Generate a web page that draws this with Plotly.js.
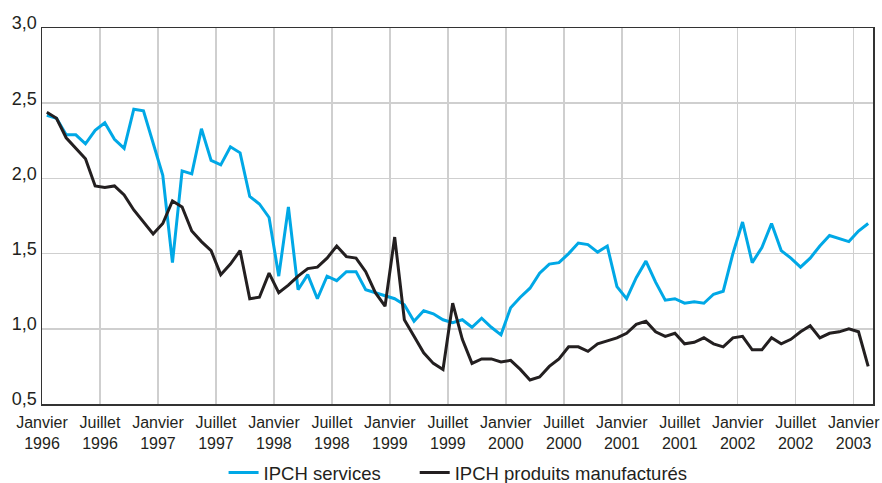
<!DOCTYPE html>
<html>
<head>
<meta charset="utf-8">
<script src="https://cdn.plot.ly/plotly-3.0.1.min.js"></script>
<style>html,body{margin:0;padding:0;background:#fff;}#chart{width:882px;height:483px;}</style>
</head>
<body>
<div id="chart"></div>
<script>
// Monthly values, January 1996 to February 2003 (86 months)
const services = [
  2.42, 2.40, 2.29, 2.29, 2.23, 2.32, 2.37, 2.26, 2.20, 2.46, 2.45, 2.24,
  2.02, 1.44, 2.05, 2.03, 2.33, 2.12, 2.09, 2.21, 2.17, 1.88, 1.83, 1.74,
  1.35, 1.81, 1.26, 1.36, 1.20, 1.35, 1.32, 1.38, 1.38, 1.26, 1.24, 1.22,
  1.20, 1.16, 1.05, 1.12, 1.10, 1.06, 1.04, 1.06, 1.01, 1.07, 1.01, 0.96,
  1.14, 1.21, 1.27, 1.37, 1.43, 1.44, 1.50, 1.57, 1.56, 1.51, 1.55, 1.28,
  1.20, 1.34, 1.45, 1.31, 1.19, 1.20, 1.17, 1.18, 1.17, 1.23, 1.25, 1.50,
  1.71, 1.44, 1.54, 1.70, 1.52, 1.47, 1.41, 1.47, 1.55, 1.62, 1.60, 1.58,
  1.65, 1.70
];
const manufactures = [
  2.44, 2.40, 2.27, 2.20, 2.13, 1.95, 1.94, 1.95, 1.89, 1.79, 1.71, 1.63,
  1.70, 1.85, 1.81, 1.65, 1.58, 1.52, 1.36, 1.43, 1.52, 1.20, 1.21, 1.37,
  1.24, 1.29, 1.35, 1.40, 1.41, 1.47, 1.55, 1.48, 1.47, 1.38, 1.24, 1.15,
  1.61, 1.06, 0.95, 0.84, 0.77, 0.73, 1.17, 0.93, 0.77, 0.80, 0.80, 0.78,
  0.79, 0.73, 0.66, 0.68, 0.75, 0.80, 0.88, 0.88, 0.85, 0.90, 0.92, 0.94,
  0.97, 1.03, 1.05, 0.98, 0.95, 0.97, 0.90, 0.91, 0.94, 0.90, 0.88, 0.94,
  0.95, 0.86, 0.86, 0.94, 0.90, 0.93, 0.98, 1.02, 0.94, 0.97, 0.98, 1.00,
  0.98, 0.75
];
const tickMonths = [0, 6, 12, 18, 24, 30, 36, 42, 48, 54, 60, 66, 72, 78, 84];
const tickLabels = [
  "Janvier<br>1996", "Juillet<br>1996", "Janvier<br>1997", "Juillet<br>1997",
  "Janvier<br>1998", "Juillet<br>1998", "Janvier<br>1999", "Juillet<br>1999",
  "Janvier<br>2000", "Juillet<br>2000", "Janvier<br>2001", "Juillet<br>2001",
  "Janvier<br>2002", "Juillet<br>2002", "Janvier<br>2003"
];
const seriesNames = ["IPCH services", "IPCH produits manufacturés"];

const months = services.map((_, i) => i + 0.5);

const traces = [
  {x: months, y: services, name: seriesNames[0], type: "scatter", mode: "lines",
   line: {color: "#00a8e6", width: 3}, legend: "legend"},
  {x: months, y: manufactures, name: seriesNames[1], type: "scatter", mode: "lines",
   line: {color: "#231f20", width: 3}, legend: "legend2"}
];

const legendBase = {orientation: "h", xanchor: "left", yref: "container", y: 0.021, yanchor: "middle",
                    font: {size: 18.5, color: "#231f20"}, bgcolor: "rgba(0,0,0,0)"};

const layout = {
  width: 882, height: 483,
  margin: {l: 42, r: 9, t: 28, b: 79},
  paper_bgcolor: "#fff", plot_bgcolor: "#fff",
  separators: ", ",
  font: {family: "Liberation Sans, Arial, sans-serif", color: "#231f20", size: 16},
  showlegend: true,
  legend: Object.assign({}, legendBase, {x: 0.2185}),
  legend2: Object.assign({}, legendBase, {x: 0.4485}),
  xaxis: {range: [0, 86], tickmode: "array", tickvals: tickMonths, ticktext: tickLabels,
          showgrid: true, gridcolor: "#cfcfcf", gridwidth: 1.5, zeroline: false,
          showline: true, linecolor: "#333", linewidth: 1.5, mirror: true, ticks: "",
          ticklabelstandoff: 3, tickfont: {size: 16}, fixedrange: true},
  yaxis: {range: [0.5, 3.0], dtick: 0.5, tick0: 0.5, tickformat: ".1f",
          showgrid: true, gridcolor: "#cfcfcf", gridwidth: 1.5, zeroline: false,
          showline: true, linecolor: "#333", linewidth: 1.5, mirror: true, ticks: "",
          ticklabelshift: -5, ticklabelstandoff: 0,
          tickfont: {size: 18}, fixedrange: true}
};

Plotly.newPlot("chart", traces, layout, {displayModeBar: false, staticPlot: true});
</script>
</body>
</html>
